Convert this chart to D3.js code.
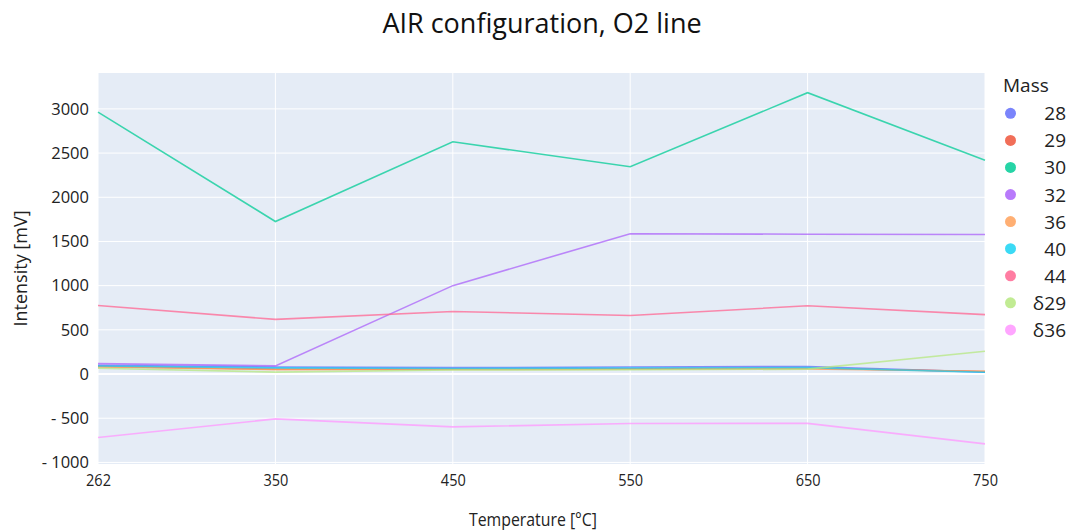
<!DOCTYPE html>
<html>
<head>
<meta charset="utf-8">
<script src="https://cdn.jsdelivr.net/npm/d3@7"></script>
<style>
  body { margin: 0; background: #fff; }
  text { font-family: "Open Sans", "Noto Sans", sans-serif; }
</style>
</head>
<body>
<div id="chart"></div>
<script>
var width = 1077, height = 532;

// temperatures (category axis)
var temps = ["262", "350", "450", "550", "650", "750"];
var yTicks = [-1000, -500, 0, 500, 1000, 1500, 2000, 2500, 3000];

// intensities per mass, mV
var mass28 = [100, 80, 72, 80, 85, 22];
var mass29 = [85, 55, 55, 60, 65, 28];
var mass30 = [2964, 1726, 2628, 2345, 3183, 2420];
var mass32 = [118, 92, 1000, 1588, 1582, 1578];
var mass36 = [80, 50, 52, 55, 58, 32];
var mass40 = [90, 70, 62, 68, 72, 20];
var mass44 = [775, 618, 708, 662, 772, 672];
var d29 = [65, 22, 45, 48, 55, 258];
var d36 = [-718, -508, -598, -560, -558, -790];

var names = ["28", "29", "30", "32", "36", "40", "44", "\u03b429", "\u03b436"];
var values = [mass28, mass29, mass30, mass32, mass36, mass40, mass44, d29, d36];
var colors = ["#636EFA", "#EF553B", "#00CC96", "#AB63FA", "#FFA15A", "#19D3F3", "#FF6692", "#B6E880", "#FF97FF"];

var plotL = 98, plotR = 985, plotT = 73, plotB = 464;

var svg = d3.select("#chart").append("svg")
  .attr("width", width)
  .attr("height", height);

var x = d3.scalePoint()
  .domain(temps)
  .range([plotL, plotR])
  .padding(0);

var y = d3.scaleLinear()
  .domain([-1018, 3406])
  .range([plotB, plotT]);

// plot background
svg.append("rect")
  .attr("x", plotL).attr("y", plotT)
  .attr("width", plotR - plotL).attr("height", plotB - plotT)
  .attr("fill", "#E5ECF6");

// grid lines
svg.append("g").selectAll("line")
  .data(temps).enter()
  .append("line")
  .attr("x1", function(d) { return x(d); }).attr("x2", function(d) { return x(d); })
  .attr("y1", plotT).attr("y2", plotB)
  .attr("stroke", "#fff").attr("stroke-width", 1);

svg.append("g").selectAll("line")
  .data(yTicks).enter()
  .append("line")
  .attr("x1", plotL).attr("x2", plotR)
  .attr("y1", function(d) { return y(d); }).attr("y2", function(d) { return y(d); })
  .attr("stroke", "#fff").attr("stroke-width", function(d) { return d === 0 ? 2 : 1; });

// axes
var yAxis = d3.axisLeft(y)
  .tickValues(yTicks)
  .tickSize(0)
  .tickPadding(9)
  .tickFormat(function(d) { return d < 0 ? "- " + Math.abs(d) : d; });

svg.append("g")
  .attr("transform", "translate(" + plotL + ",0)")
  .call(yAxis)
  .call(function(g) { g.select(".domain").remove(); })
  .selectAll("text")
  .style("font-size", "16.5px")
  .attr("fill", "#222");

var xAxis = d3.axisBottom(x).tickSize(0).tickPadding(10);

// x labels look horizontally squeezed in the original
svg.append("g")
  .attr("transform", "translate(0," + plotB + ")")
  .call(xAxis)
  .call(function(g) { g.select(".domain").remove(); })
  .selectAll(".tick text")
  .style("font-size", "16.5px")
  .attr("fill", "#222")
  .attr("transform", "scale(0.88,1)");

svg.append("text")
  .attr("transform", "translate(533,526) scale(0.88,1)")
  .attr("text-anchor", "middle")
  .style("font-size", "18px")
  .attr("fill", "#222")
  .text("Temperature [\u00b0C]");

// lines
var line = d3.line()
  .x(function(d, i) { return x(temps[i]); })
  .y(function(d) { return y(d); });

svg.append("g").selectAll("path")
  .data(values).enter()
  .append("path")
  .attr("d", function(d) { return line(d); })
  .attr("fill", "none")
  .attr("stroke", function(d, i) { return colors[i]; })
  .attr("stroke-opacity", 0.75)
  .attr("stroke-width", 1.6);

// titles
svg.append("text")
  .attr("x", 542).attr("y", 33)
  .attr("text-anchor", "middle")
  .style("font-size", "27px")
  .attr("fill", "#111")
  .text("AIR configuration, O2 line");

svg.append("text")
  .attr("transform", "translate(27," + ((plotT + plotB) / 2) + ") rotate(-90)")
  .attr("text-anchor", "middle")
  .style("font-size", "18px")
  .attr("fill", "#222")
  .text("Intensity [mV]");

// legend
var legend = svg.append("g");

legend.append("text")
  .attr("x", 1003).attr("y", 92)
  .style("font-size", "19px")
  .attr("fill", "#222")
  .text("Mass");

var items = legend.selectAll("g.item")
  .data(names).enter()
  .append("g")
  .attr("class", "item")
  .attr("transform", function(d, i) { return "translate(0," + (113.3 + i * 27.08) + ")"; });

items.append("circle")
  .attr("cx", 1010.5).attr("cy", 0).attr("r", 5.5)
  .attr("fill", function(d, i) { return colors[i]; })
  .attr("fill-opacity", 0.85);

items.append("text")
  .attr("x", 1066).attr("y", 7)
  .attr("text-anchor", "end")
  .style("font-size", "19px")
  .attr("fill", "#222")
  .text(function(d) { return d; });
</script>
</body>
</html>
